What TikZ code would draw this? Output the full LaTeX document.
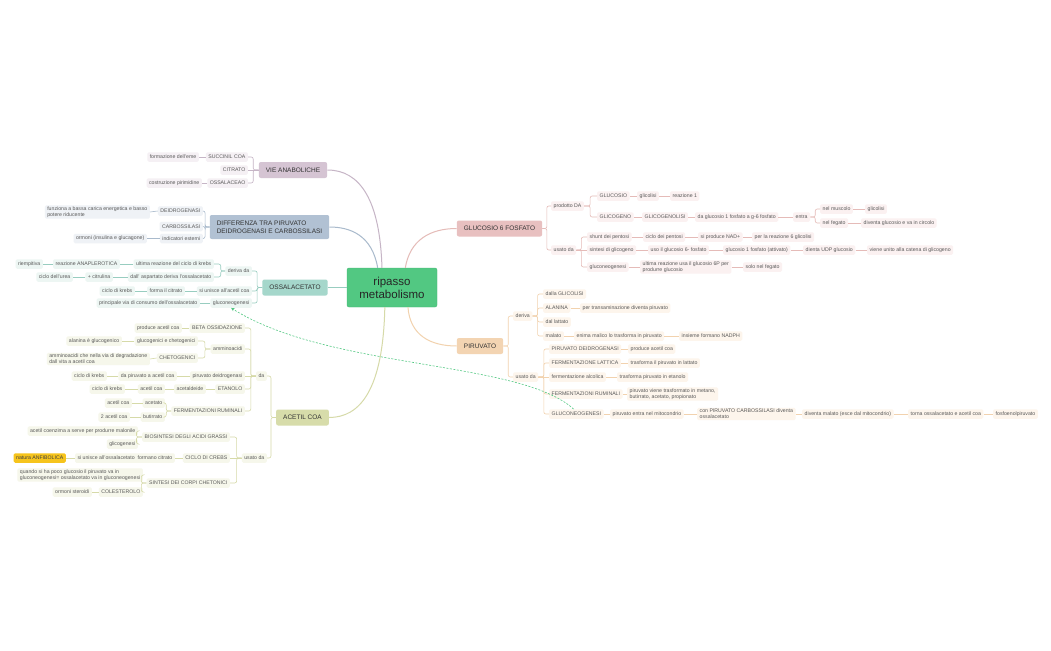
\documentclass[tikz,border=0pt]{standalone}
\usepackage{fontspec}
\setmainfont{Liberation Sans}
\usetikzlibrary{shapes,arrows,positioning,calc}

\definecolor{cenG}{HTML}{52C882}
\definecolor{cenD}{HTML}{45B873}
\definecolor{vieT}{HTML}{D5C4D3}
\definecolor{vieL}{HTML}{C6B5C6}
\definecolor{vieS}{HTML}{F5F0F4}
\definecolor{difT}{HTML}{B1C1D3}
\definecolor{difL}{HTML}{A9BACC}
\definecolor{difS}{HTML}{EFF2F6}
\definecolor{ossT}{HTML}{A5D7CB}
\definecolor{ossL}{HTML}{98CDC0}
\definecolor{ossS}{HTML}{EDF6F3}
\definecolor{aceT}{HTML}{D7DCAA}
\definecolor{aceL}{HTML}{D6DAA8}
\definecolor{aceS}{HTML}{F6F7EB}
\definecolor{gluT}{HTML}{E8C0C0}
\definecolor{gluL}{HTML}{E5BBB8}
\definecolor{gluS}{HTML}{FBF1F1}
\definecolor{pirT}{HTML}{F3D4B2}
\definecolor{pirL}{HTML}{F2D2AE}
\definecolor{pirS}{HTML}{FDF5EC}
\definecolor{anfY}{HTML}{F6C41C}

\tikzset{
  sub/.style={rectangle, rounded corners=1.5pt, fill=#1, inner xsep=2.5pt, inner ysep=1.2pt, minimum height=9.5pt, font=\fontsize{5.2}{6.2}\selectfont, text=black!65},
  lsub/.style={sub=#1, anchor=east},
  rsub/.style={sub=#1, anchor=west},
  topic/.style={rectangle, rounded corners=2pt, fill=#1, inner xsep=7pt, inner ysep=4.5pt, minimum height=16pt, font=\fontsize{6.5}{8}\selectfont, text=black!80},
  link/.style={draw=#1, line width=0.6pt, rounded corners=2pt},
  bough/.style={draw=#1, line width=1pt}
}

\begin{document}
\begin{tikzpicture}[x=1pt,y=-1pt]
\fill[white] (0,0) rectangle (1051,650);

% centre
\node[rectangle, rounded corners=2pt, fill=cenG, draw=cenD, minimum width=90pt, minimum height=39pt, align=center, font=\fontsize{11.5}{13}\selectfont, text=black!85] (cen) at (392,287.5) {ripasso\\metabolismo};

% VIE ANABOLICHE
\node[topic=vieT] (vie) at (293,170) {VIE ANABOLICHE};
\node[lsub=vieS] (succ) at (248,157) {SUCCINIL COA};
\node[lsub=vieS] (citr) at (248,170) {CITRATO};
\node[lsub=vieS] (ossv) at (248,183) {OSSALACEAO};
\node[lsub=vieS] (eme) at (199,157) {formazione dell'eme};
\node[lsub=vieS] (pirim) at (202,183) {costruzione pirimidine};

% DIFFERENZA
\node[topic=difT, align=left, minimum height=24pt] (diff) at (269.5,227) {DIFFERENZA TRA PIRUVATO\\DEIDROGENASI E CARBOSSILASI};
\node[lsub=difS] (deid) at (203,211) {DEIDROGENASI};
\node[lsub=difS] (carb) at (203,226.5) {CARBOSSILASI};
\node[lsub=difS] (indic) at (203,238.5) {indicatori esterni};
\node[lsub=difS, align=left] (funz) at (150,212) {funziona a bassa carica energetica e basso\\potere riducente};
\node[lsub=difS] (ormi) at (147,238.5) {ormoni (insulina e glucagone)};

% OSSALACETATO
\node[topic=ossT] (ossa) at (295,287.5) {OSSALACETATO};
\node[lsub=ossS] (derda) at (252,271) {deriva da};
\node[lsub=ossS] (siuni) at (252,291) {si unisce all'acetil coa};
\node[lsub=ossS] (ogluco) at (252,303) {gluconeogenesi};
\node[lsub=ossS] (ultkr) at (214,264) {ultima reazione del ciclo di krebs};
\node[lsub=ossS] (aspa) at (214,277) {dall' aspartato deriva l'ossalacetato};
\node[lsub=ossS] (anapl) at (120,264) {reazione ANAPLEROTICA};
\node[lsub=ossS] (riemp) at (43,264) {riempitiva};
\node[lsub=ossS] (citru) at (113,277) {+ citrulina};
\node[lsub=ossS] (urea) at (73,277) {ciclo dell'urea};
\node[lsub=ossS] (formc) at (185,291) {forma il citrato};
\node[lsub=ossS] (krebo) at (135,291) {ciclo di krebs};
\node[lsub=ossS] (princ) at (200,303) {principale via di consumo dell'ossalacetato};

% ACETIL COA
\node[topic=aceT] (acet) at (302.5,417.5) {ACETIL COA};
\node[lsub=aceS] (da) at (267,376) {da};
\node[lsub=aceS] (usda) at (267,458) {usato da};
\node[lsub=aceS] (beta) at (245,328) {BETA OSSIDAZIONE};
\node[lsub=aceS] (ammi) at (245,349) {amminoacidi};
\node[lsub=aceS] (pdeid) at (245,376) {piruvato deidrogenasi};
\node[lsub=aceS] (etan) at (245,389) {ETANOLO};
\node[lsub=aceS] (frum) at (245,411) {FERMENTAZIONI RUMINALI};
\node[lsub=aceS] (prodac) at (182,328) {produce acetil coa};
\node[lsub=aceS] (glucog) at (198,341) {glucogenici e chetogenici};
\node[lsub=aceS] (cheto) at (198,358) {CHETOGENICI};
\node[lsub=aceS] (alan) at (122,341) {alanina è glucogenico};
\node[lsub=aceS, align=left] (degr) at (150,359) {amminoacidi che nella via di degradazione\\dall vita a acetil coa};
\node[lsub=aceS] (dapir) at (177,376) {da piruvato a acetil coa};
\node[lsub=aceS] (krebp) at (107,376) {ciclo di krebs};
\node[lsub=aceS] (acald) at (206,389) {acetaldeide};
\node[lsub=aceS] (acce) at (165,389) {acetil coa};
\node[lsub=aceS] (krebe) at (125,389) {ciclo di krebs};
\node[lsub=aceS] (aceto) at (165,403) {acetato};
\node[lsub=aceS] (butir) at (165,417) {butirrato};
\node[lsub=aceS] (acca) at (132,403) {acetil coa};
\node[lsub=aceS] (dueac) at (130,417) {2 acetil coa};
\node[lsub=aceS] (biosi) at (230,437) {BIOSINTESI DEGLI ACIDI GRASSI};
\node[lsub=aceS] (crebs) at (230,458) {CICLO DI CREBS};
\node[lsub=aceS] (scorp) at (230,483) {SINTESI DEI CORPI CHETONICI};
\node[lsub=aceS] (malon) at (138,431) {acetil coenzima a serve per produrre malonile};
\node[lsub=aceS] (glicg) at (138,444) {glicogenesi};
\node[lsub=aceS] (siosa) at (175,458) {si unisce all'ossalacetato\ \ formano citrato};
\node[lsub=anfY, text=black!75] (anfib) at (66,458) {natura ANFIBOLICA};
\node[lsub=aceS, align=left] (quando) at (143,475) {quando si ha poco glucosio il piruvato va in\\gluconeogenesi= ossalacetato va in gluconeogenesi};
\node[lsub=aceS] (coles) at (143,492) {COLESTEROLO};
\node[lsub=aceS] (ormst) at (92,492) {ormoni steroidi};

% GLUCOSIO 6 FOSFATO
\node[topic=gluT] (gluc) at (499.5,228.5) {GLUCOSIO 6 FOSFATO};
\node[rsub=gluS] (proda) at (551,206) {prodotto DA};
\node[rsub=gluS] (usgl) at (551,250) {usato da};
\node[rsub=gluS] (glcs) at (597,196) {GLUCOSIO};
\node[rsub=gluS] (glcg) at (597,217) {GLICOGENO};
\node[rsub=gluS] (glic1) at (637,196) {glicolisi};
\node[rsub=gluS] (reaz1) at (670,196) {reazione 1};
\node[rsub=gluS] (glnol) at (642,217) {GLICOGENOLISI};
\node[rsub=gluS] (g1g6) at (695,217) {da glucosio 1 fosfato a g-6 fosfato};
\node[rsub=gluS] (entra) at (793,217) {entra};
\node[rsub=gluS] (musc) at (820,209) {nel muscolo};
\node[rsub=gluS] (fega) at (820,223) {nel fegato};
\node[rsub=gluS] (glic2) at (865,209) {glicolisi};
\node[rsub=gluS] (circ) at (861,223) {diventa glucosio e va in circolo};
\node[rsub=gluS] (shunt) at (587,237) {shunt dei pentosi};
\node[rsub=gluS] (sglic) at (587,250) {sintesi di glicogeno};
\node[rsub=gluS] (gneo) at (587,267) {gluconeogenesi};
\node[rsub=gluS] (cpent) at (643,237) {ciclo dei pentosi};
\node[rsub=gluS] (nadp) at (698,237) {si produce NAD+};
\node[rsub=gluS] (reaz6) at (752,237) {per la reazione 6 glicolisi};
\node[rsub=gluS] (uso6) at (648,250) {uso il glucosio 6- fosfato};
\node[rsub=gluS] (g1att) at (723,250) {glucosio 1 fosfato (attivato)};
\node[rsub=gluS] (udp) at (803,250) {dienta UDP glucosio};
\node[rsub=gluS] (catena) at (867,250) {viene unito alla catena di glicogeno};
\node[rsub=gluS, align=left] (ultre) at (640,267) {ultima reazione usa il glucosio 6P per\\produrre glucosio};
\node[rsub=gluS] (solof) at (743,267) {solo nel fegato};

% PIRUVATO
\node[topic=pirT] (piru) at (480,346) {PIRUVATO};
\node[rsub=pirS] (deriv) at (513,316) {deriva};
\node[rsub=pirS] (uspi) at (513,377) {usato da};
\node[rsub=pirS] (dglic) at (543,294) {dalla GLICOLISI};
\node[rsub=pirS] (alani) at (543,308) {ALANINA};
\node[rsub=pirS] (latt) at (543,322) {dal lattato};
\node[rsub=pirS] (malat) at (543,336) {malato};
\node[rsub=pirS] (trans) at (580,308) {per transaminazione diventa piruvato};
\node[rsub=pirS] (enima) at (574,336) {enima malico lo trasforma in piruvato};
\node[rsub=pirS] (nadph) at (679,336) {insieme formano NADPH};
\node[rsub=pirS] (pdeid2) at (549,349) {PIRUVATO DEIDROGENASI};
\node[rsub=pirS] (flatt) at (549,363) {FERMENTAZIONE LATTICA};
\node[rsub=pirS] (falc) at (549,377) {fermentazione alcolica};
\node[rsub=pirS] (frum2) at (549,394) {FERMENTAZIONI RUMINALI};
\node[rsub=pirS] (pgluco) at (549,414) {GLUCONEOGENESI};
\node[rsub=pirS] (prac) at (628,349) {produce acetil coa};
\node[rsub=pirS] (inlat) at (628,363) {trasforma il piruvato in lattato};
\node[rsub=pirS] (ineta) at (617,377) {trasforma piruvato in etanolo};
\node[rsub=pirS, align=left] (metan) at (627,394) {piruvato viene trasformato in metano,\\butirrato, acetato, propionato};
\node[rsub=pirS] (mitoc) at (610,414) {piruvato entra nel mitocondrio};
\node[rsub=pirS, align=left] (carbo) at (697,414) {con PIRUVATO CARBOSSILASI diventa\\ossalacetato};
\node[rsub=pirS] (malato2) at (802,414) {diventa malato (esce dal mitocondrio)};
\node[rsub=pirS] (torna) at (908,414) {torna ossalacetato e acetil coa};
\node[rsub=pirS] (pep) at (993,414) {fosfoenolpiruvato};

% main branches
\draw[bough=vieL] (cen.117) .. controls (380,200) and (360,170) .. (vie.east);
\draw[bough=difL] (cen.126) .. controls (372,235) and (350,227) .. (diff.east);
\draw[bough=ossL] (cen.west) -- (ossa.east);
\draw[bough=aceL] (cen.250) .. controls (383,390) and (360,417.5) .. (acet.east);
\draw[bough=gluL] (cen.56) .. controls (410,240) and (430,228.5) .. (gluc.west);
\draw[bough=pirL] (cen.309) .. controls (410,335) and (430,346) .. (piru.west);

% vie anaboliche
\draw[link=vieL] (vie.west) -- ++(-5.5,0) |- (succ.east);
\draw[link=vieL] (vie.west) -- (citr.east);
\draw[link=vieL] (vie.west) -- ++(-5.5,0) |- (ossv.east);
\draw[link=vieL] (succ.west) -- (eme.east);
\draw[link=vieL] (ossv.west) -- (pirim.east);

% differenza
\draw[link=difL] (diff.west) -- ++(-4.5,0) |- (deid.east);
\draw[link=difL] (diff.west) -- ++(-4.5,0) |- (carb.east);
\draw[link=difL] (diff.west) -- ++(-4.5,0) |- (indic.east);
\draw[link=difL] (deid.west) -- (funz.east);
\draw[link=difL] (indic.west) -- (ormi.east);

% ossalacetato
\draw[link=ossL] (ossa.west) -- ++(-5,0) |- (derda.east);
\draw[link=ossL] (ossa.west) -- ++(-5,0) |- (siuni.east);
\draw[link=ossL] (ossa.west) -- ++(-5,0) |- (ogluco.east);
\draw[link=ossL] (derda.west) -- ++(-4.5,0) |- (ultkr.east);
\draw[link=ossL] (derda.west) -- ++(-4.5,0) |- (aspa.east);
\draw[link=ossL] (ultkr.west) -- (anapl.east);
\draw[link=ossL] (anapl.west) -- (riemp.east);
\draw[link=ossL] (aspa.west) -- (citru.east);
\draw[link=ossL] (citru.west) -- (urea.east);
\draw[link=ossL] (siuni.west) -- (formc.east);
\draw[link=ossL] (formc.west) -- (krebo.east);
\draw[link=ossL] (ogluco.west) -- (princ.east);

% acetil coa
\draw[link=aceL] (acet.west) -- ++(-5,0) |- (da.east);
\draw[link=aceL] (acet.west) -- ++(-5,0) |- (usda.east);
\draw[link=aceL] (da.west) -- ++(-5,0) |- (beta.east);
\draw[link=aceL] (da.west) -- ++(-5,0) |- (ammi.east);
\draw[link=aceL] (da.west) -- (pdeid.east);
\draw[link=aceL] (da.west) -- ++(-5,0) |- (etan.east);
\draw[link=aceL] (da.west) -- ++(-5,0) |- (frum.east);
\draw[link=aceL] (beta.west) -- (prodac.east);
\draw[link=aceL] (ammi.west) -- ++(-5.5,0) |- (glucog.east);
\draw[link=aceL] (ammi.west) -- ++(-5.5,0) |- (cheto.east);
\draw[link=aceL] (glucog.west) -- (alan.east);
\draw[link=aceL] (cheto.west) -- (degr.east);
\draw[link=aceL] (pdeid.west) -- (dapir.east);
\draw[link=aceL] (dapir.west) -- (krebp.east);
\draw[link=aceL] (etan.west) -- (acald.east);
\draw[link=aceL] (acald.west) -- (acce.east);
\draw[link=aceL] (acce.west) -- (krebe.east);
\draw[link=aceL] (frum.west) -- ++(-5,0) |- (aceto.east);
\draw[link=aceL] (frum.west) -- ++(-5,0) |- (butir.east);
\draw[link=aceL] (aceto.west) -- (acca.east);
\draw[link=aceL] (butir.west) -- (dueac.east);
\draw[link=aceL] (usda.west) -- ++(-5,0) |- (biosi.east);
\draw[link=aceL] (usda.west) -- (crebs.east);
\draw[link=aceL] (usda.west) -- ++(-5,0) |- (scorp.east);
\draw[link=aceL] (biosi.west) -- ++(-5.5,0) |- (malon.east);
\draw[link=aceL] (biosi.west) -- ++(-5.5,0) |- (glicg.east);
\draw[link=aceL] (crebs.west) -- (siosa.east);
\draw[link=aceL] (siosa.west) -- (anfib.east);
\draw[link=aceL] (scorp.west) -- ++(-5,0) |- (quando.east);
\draw[link=aceL] (scorp.west) -- ++(-5,0) |- (coles.east);
\draw[link=aceL] (coles.west) -- (ormst.east);

% glucosio 6 fosfato
\draw[link=gluL] (gluc.east) -- ++(4.5,0) |- (proda.west);
\draw[link=gluL] (gluc.east) -- ++(4.5,0) |- (usgl.west);
\draw[link=gluL] (proda.east) -- ++(6,0) |- (glcs.west);
\draw[link=gluL] (proda.east) -- ++(6,0) |- (glcg.west);
\draw[link=gluL] (glcs.east) -- (glic1.west);
\draw[link=gluL] (glic1.east) -- (reaz1.west);
\draw[link=gluL] (glcg.east) -- (glnol.west);
\draw[link=gluL] (glnol.east) -- (g1g6.west);
\draw[link=gluL] (g1g6.east) -- (entra.west);
\draw[link=gluL] (entra.east) -- ++(5,0) |- (musc.west);
\draw[link=gluL] (entra.east) -- ++(5,0) |- (fega.west);
\draw[link=gluL] (musc.east) -- (glic2.west);
\draw[link=gluL] (fega.east) -- (circ.west);
\draw[link=gluL] (usgl.east) -- ++(5,0) |- (shunt.west);
\draw[link=gluL] (usgl.east) -- (sglic.west);
\draw[link=gluL] (usgl.east) -- ++(5,0) |- (gneo.west);
\draw[link=gluL] (shunt.east) -- (cpent.west);
\draw[link=gluL] (cpent.east) -- (nadp.west);
\draw[link=gluL] (nadp.east) -- (reaz6.west);
\draw[link=gluL] (sglic.east) -- (uso6.west);
\draw[link=gluL] (uso6.east) -- (g1att.west);
\draw[link=gluL] (g1att.east) -- (udp.west);
\draw[link=gluL] (udp.east) -- (catena.west);
\draw[link=gluL] (gneo.east) -- (ultre.west);
\draw[link=gluL] (ultre.east) -- (solof.west);

% piruvato
\draw[link=pirL] (piru.east) -- ++(5,0) |- (deriv.west);
\draw[link=pirL] (piru.east) -- ++(5,0) |- (uspi.west);
\draw[link=pirL] (deriv.east) -- ++(5,0) |- (dglic.west);
\draw[link=pirL] (deriv.east) -- ++(5,0) |- (alani.west);
\draw[link=pirL] (deriv.east) -- ++(5,0) |- (latt.west);
\draw[link=pirL] (deriv.east) -- ++(5,0) |- (malat.west);
\draw[link=pirL] (alani.east) -- (trans.west);
\draw[link=pirL] (malat.east) -- (enima.west);
\draw[link=pirL] (enima.east) -- (nadph.west);
\draw[link=pirL] (uspi.east) -- ++(5.5,0) |- (pdeid2.west);
\draw[link=pirL] (uspi.east) -- ++(5.5,0) |- (flatt.west);
\draw[link=pirL] (uspi.east) -- (falc.west);
\draw[link=pirL] (uspi.east) -- ++(5.5,0) |- (frum2.west);
\draw[link=pirL] (uspi.east) -- ++(5.5,0) |- (pgluco.west);
\draw[link=pirL] (pdeid2.east) -- (prac.west);
\draw[link=pirL] (flatt.east) -- (inlat.west);
\draw[link=pirL] (falc.east) -- (ineta.west);
\draw[link=pirL] (frum2.east) -- (metan.west);
\draw[link=pirL] (pgluco.east) -- (mitoc.west);
\draw[link=pirL] (mitoc.east) -- (carbo.west);
\draw[link=pirL] (carbo.east) -- (malato2.west);
\draw[link=pirL] (malato2.east) -- (torna.west);
\draw[link=pirL] (torna.east) -- (pep.west);

% relation
\draw[cenG, line width=0.6pt, dash pattern=on 2pt off 1.5pt, -stealth] (pgluco.120) .. controls (520,360) and (330,370) .. (ogluco.south);
\end{tikzpicture}
\end{document}
